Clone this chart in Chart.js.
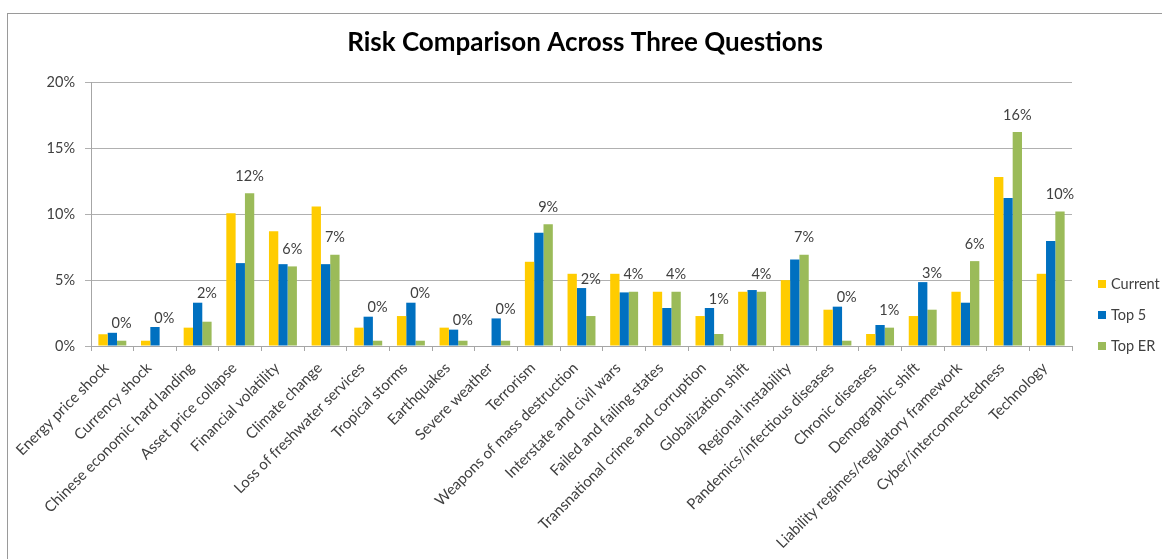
<!DOCTYPE html>
<html>
<head>
<meta charset="utf-8">
<script src="https://cdn.jsdelivr.net/npm/chart.js@4.4.1/dist/chart.umd.min.js"></script>
<style>
  html, body { margin: 0; padding: 0; background: #ffffff; }
  #wrap { position: relative; width: 1162px; height: 559px; overflow: hidden; }
  #frame { position: absolute; left: 7px; top: 13px; right: -5px; bottom: -5px;
           border-left: 1px solid #9a9a9a; border-top: 1px solid #9a9a9a; pointer-events: none; }
  #legend { position: absolute; left: 1098px; top: 0; font-family: Lato, sans-serif; font-size: 14.5px; color: #404040; }
  .li { position: absolute; left: 0; white-space: nowrap; height: 16px; line-height: 16px; }
  .sw { position: absolute; left: 0; top: 4px; width: 8px; height: 8px; }
  .tx { position: absolute; left: 13px; top: 0; }
</style>
</head>
<body>
<div id="wrap">
  <canvas id="c" width="1162" height="559"></canvas>
  <div id="frame"></div>
  <div id="legend"></div>
</div>
<script>
const categories = [
  "Energy price shock", "Currency shock", "Chinese economic hard landing", "Asset price collapse",
  "Financial volatility", "Climate change", "Loss of freshwater services", "Tropical storms",
  "Earthquakes", "Severe weather", "Terrorism", "Weapons of mass destruction",
  "Interstate and civil wars", "Failed and failing states", "Transnational crime and corruption",
  "Globalization shift", "Regional instability", "Pandemics/infectious diseases", "Chronic diseases",
  "Demographic shift", "Liability regimes/regulatory framework", "Cyber/interconnectedness", "Technology"
];
const seriesNames = ["Current", "Top 5", "Top ER"];
const current = [0.89, 0.40, 1.39, 10.06, 8.70, 10.57, 1.39, 2.27, 1.39, 0, 6.38, 5.47, 5.47, 4.11, 2.27, 4.11, 4.99, 2.75, 0.91, 2.27, 4.11, 12.81, 5.47];
const top5    = [1.00, 1.44, 3.28, 6.28, 6.20, 6.20, 2.22, 3.28, 1.24, 2.09, 8.58, 4.39, 4.06, 2.88, 2.88, 4.24, 6.56, 2.98, 1.59, 4.84, 3.28, 11.22, 7.95];
const topER   = [0.40, 0, 1.84, 11.58, 6.03, 6.91, 0.40, 0.40, 0.40, 0.40, 9.23, 2.27, 4.11, 4.11, 0.91, 4.11, 6.91, 0.40, 1.39, 2.75, 6.43, 16.22, 10.19];
const yTicks = [0, 5, 10, 15, 20];
const chartTitle = "Risk Comparison Across Three Questions";
const colors = ["#FFCC00", "#0070C0", "#9BBB59"];

const TXT = "#404040";
const FONT = "Lato, 'Open Sans', sans-serif";

// Data labels for the "Top ER" series; lifted above the neighbouring blue bar when it would overlap
const labelPlugin = {
  id: "erLabels",
  afterDatasetsDraw(chart) {
    const metaER = chart.getDatasetMeta(2);
    const metaT5 = chart.getDatasetMeta(1);
    const ctx = chart.ctx;
    ctx.save();
    ctx.font = "14.5px " + FONT;
    ctx.fillStyle = TXT;
    ctx.textAlign = "center";
    ctx.textBaseline = "middle";
    metaER.data.forEach((bar, i) => {
      const v = chart.data.datasets[2].data[i];
      const blue = metaT5.data[i];
      const y = Math.min(bar.y - 17, blue.y - 9);
      ctx.fillText(Math.round(v) + "%", bar.x, y);
    });
    ctx.restore();
  }
};

// Chart title drawn centred on the full chart frame
const titlePlugin = {
  id: "frameTitle",
  afterDraw(chart) {
    const ctx = chart.ctx;
    ctx.save();
    ctx.font = "bold 26px " + FONT;
    ctx.fillStyle = "#000000";
    ctx.textAlign = "center";
    ctx.textBaseline = "middle";
    ctx.fillText(chartTitle, 585, 43);
    ctx.restore();
  }
};

const chart = new Chart(document.getElementById("c"), {
  type: "bar",
  data: {
    labels: categories,
    datasets: [
      { label: seriesNames[0], data: current, backgroundColor: colors[0] },
      { label: seriesNames[1], data: top5, backgroundColor: colors[1] },
      { label: seriesNames[2], data: topER, backgroundColor: colors[2] }
    ]
  },
  options: {
    responsive: false,
    animation: false,
    layout: { padding: { left: 0, right: 90, top: 82, bottom: 0 } },
    datasets: { bar: { categoryPercentage: 0.655, barPercentage: 1.0, borderWidth: 0 } },
    plugins: {
      legend: { display: false },
      tooltip: { enabled: false },
      title: { display: false }
    },
    scales: {
      x: {
        grid: { display: true, drawOnChartArea: false, drawTicks: true, tickLength: 5, color: "#a6a6a6", offset: true },
        border: { display: true, color: "#a6a6a6" },
        ticks: {
          autoSkip: false, maxRotation: 45, minRotation: 45, padding: 8, labelOffset: -6,
          color: TXT, font: { family: FONT, size: 15 }
        },
        afterFit(scale) { scale.height = 213; }
      },
      y: {
        min: 0, max: 20,
        afterBuildTicks(scale) { scale.ticks = yTicks.map(v => ({ value: v })); },
        grid: { color: "#b0b0b0", drawTicks: true, tickLength: 6 },
        border: { display: true, color: "#a6a6a6" },
        ticks: {
          padding: 10, color: TXT, font: { family: FONT, size: 14.5 },
          callback: v => v + "%"
        },
        afterFit(scale) { scale.width = 91; }
      }
    }
  },
  plugins: [labelPlugin, titlePlugin]
});

// HTML legend built from the chart's datasets
const legend = document.getElementById("legend");
const legendCenters = [284, 315, 346];
chart.data.datasets.forEach((ds, i) => {
  const li = document.createElement("div");
  li.className = "li";
  li.style.top = (legendCenters[i] - 8) + "px";
  const sw = document.createElement("span");
  sw.className = "sw";
  sw.style.background = ds.backgroundColor;
  const tx = document.createElement("span");
  tx.className = "tx";
  tx.textContent = ds.label;
  li.appendChild(sw); li.appendChild(tx);
  legend.appendChild(li);
});
</script>
</body>
</html>
